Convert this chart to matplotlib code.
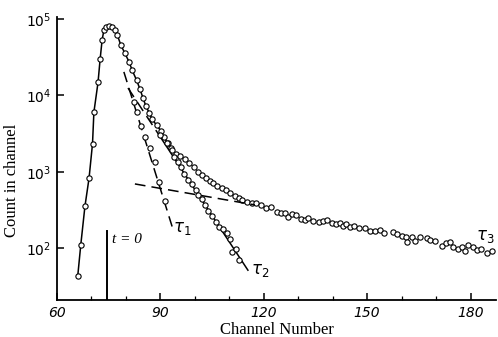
import numpy as np
import matplotlib
matplotlib.use("Agg")
import matplotlib.pyplot as plt
from matplotlib.ticker import FixedLocator, NullFormatter

# main measured curve (channel, count)
main_ch = [66.0, 66.9, 68.1, 69.3, 70.3, 70.7, 71.9, 72.5, 73.1, 73.6, 74.3, 75.2,
           76.0, 76.7, 77.5, 78.5, 79.6, 80.9, 81.8, 83.1, 84.1, 85.0, 85.8, 86.8,
           87.6, 88.9, 90.1, 91.0, 92.1, 93.1, 94.4, 95.7, 97.1, 98.4, 99.7, 100.8,
           102.0, 103.1, 104.4, 105.3, 106.5, 107.8, 109.0, 110.2, 111.6, 112.9,
           113.6, 115.0, 116.5, 117.7, 119.1, 120.6, 122.0, 123.7, 124.9, 126.1,
           126.9, 128.1, 129.5, 130.7, 131.9, 132.9, 134.4, 136.1, 137.3, 138.4,
           139.7, 140.9, 142.1, 143.1, 144.0, 145.0, 146.2, 147.7, 149.4, 150.8,
           152.3, 153.7, 154.9, 157.4, 158.6, 160.0, 161.2, 161.6, 162.9, 163.9,
           165.3, 167.3, 168.2, 169.7, 171.6, 172.9, 174.0, 175.0, 176.4, 177.4,
           178.4, 179.3, 180.6, 181.8, 182.9, 184.7, 186.1]
main_cnt = [43, 112, 355, 832, 2340, 6030, 14800, 29500, 53700, 70800, 79400, 81300,
            77600, 70800, 61700, 45700, 36300, 27500, 21400, 15800, 12000, 9120, 7240, 5890,
            4900, 4070, 3470, 2820, 2400, 2040, 1740, 1620, 1480, 1320, 1170, 1000,
            912, 832, 759, 708, 661, 617, 575, 537, 490, 457,
            431, 409, 390, 390, 371, 336, 352, 297, 294, 288,
            261, 282, 274, 241, 236, 248, 231, 224, 229, 236,
            217, 207, 213, 197, 209, 193, 199, 184, 184, 171,
            171, 175, 158, 163, 155, 147, 143, 123, 143, 126,
            140, 138, 129, 126, 108, 119, 123, 106, 98, 104,
            94, 111, 106, 95, 98, 88, 94]

# first component (tau_1)
t1_ch = [82.2, 83.2, 84.5, 85.5, 87.0, 88.3, 89.5, 91.2]
t1_cnt = [8220, 6080, 3940, 2870, 2040, 1330, 746, 418]

# second component (tau_2)
t2_ch = [89.9, 91.8, 93.3, 93.9, 95.1, 96.0, 96.8, 98.1, 99.2, 100.2, 101.0, 102.2,
         102.9, 103.9, 105.0, 106.1, 107.0, 108.1, 109.2, 110.2, 110.9, 111.9, 112.9]
t2_cnt = [3050, 2390, 1940, 1570, 1350, 1150, 942, 774, 687, 582, 500, 438,
          371, 309, 266, 224, 193, 178, 158, 132, 91, 98, 71]

# fitted lines
fit1_ch, fit1_cnt = [79.4, 93.9], [20300, 164]
fit2a_ch, fit2a_cnt = [80.6, 89.9], [12500, 2900]
fit2b_ch, fit2b_cnt = [89.9, 115.4], [2900, 52]
fit3_ch, fit3_cnt = [82.6, 117.4], [697, 371]

t0_ch = 74.5
t0_top = 170

fig = plt.figure(figsize=(4.98, 3.37), dpi=100)
ax = fig.add_axes([0.1145, 0.1098, 0.8815, 0.8398])
ax.set_yscale("log")

mk = dict(marker="o", ms=3.8, mfc="white", mec="black", mew=0.8, ls="none")
dash = dict(color="black", lw=1.1, dashes=(7, 4))

n_line = sum(1 for c in main_ch if c <= 92.5)
ax.plot(main_ch[:n_line], main_cnt[:n_line], color="black", lw=1.1)
ax.plot(main_ch, main_cnt, **mk)

ax.plot(fit1_ch, fit1_cnt, **dash)
ax.plot(t1_ch, t1_cnt, **mk)
ax.plot(fit2a_ch, fit2a_cnt, **dash)
ax.plot(fit2b_ch, fit2b_cnt, color="black", lw=1.1)
ax.plot(t2_ch, t2_cnt, **mk)
ax.plot(fit3_ch, fit3_cnt, **dash)

ax.plot([t0_ch, t0_ch], [10, t0_top], color="black", lw=1.4)
ax.text(76.0, 129, "t = 0", fontsize=11, style="italic", family="Liberation Serif",
        va="center", ha="left")
ax.text(96.3, 185, r"$\tau_1$", fontsize=12, va="center", ha="center")
ax.text(118.9, 52, r"$\tau_2$", fontsize=12, va="center", ha="center")
ax.text(184.2, 146, r"$\tau_3$", fontsize=12, va="center", ha="center")

ax.set_xlim(60, 187.4)
ax.set_ylim(21.2, 1.06e5)

ax.spines["top"].set_visible(False)
ax.spines["right"].set_visible(False)
for s in ("left", "bottom"):
    ax.spines[s].set_linewidth(1.3)

ax.set_xticks([60, 90, 120, 150, 180])
ax.set_xticklabels(["60", "90", "120", "150", "180"], fontsize=10, style="italic")
ax.xaxis.set_minor_locator(FixedLocator([70, 80, 100, 110, 130, 140, 160, 170]))
ax.set_yticks([1e2, 1e3, 1e4, 1e5])
ax.set_yticklabels([r"$\mathit{10^{2}}$", r"$\mathit{10^{3}}$",
                    r"$\mathit{10^{4}}$", r"$\mathit{10^{5}}$"], fontsize=10)
ax.yaxis.set_minor_locator(FixedLocator([]))
ax.yaxis.set_minor_formatter(NullFormatter())
ax.tick_params(which="major", direction="in", length=5, width=1.1, pad=4)
ax.tick_params(which="minor", direction="in", length=3, width=0.9)

ax.set_xlabel("Channel Number", fontsize=12, family="Liberation Serif", labelpad=2)
ax.set_ylabel("Count in channel", fontsize=12, family="Liberation Serif")
ax.yaxis.set_label_coords(-0.084, 0.424)

fig.savefig("out.png", dpi=100)
